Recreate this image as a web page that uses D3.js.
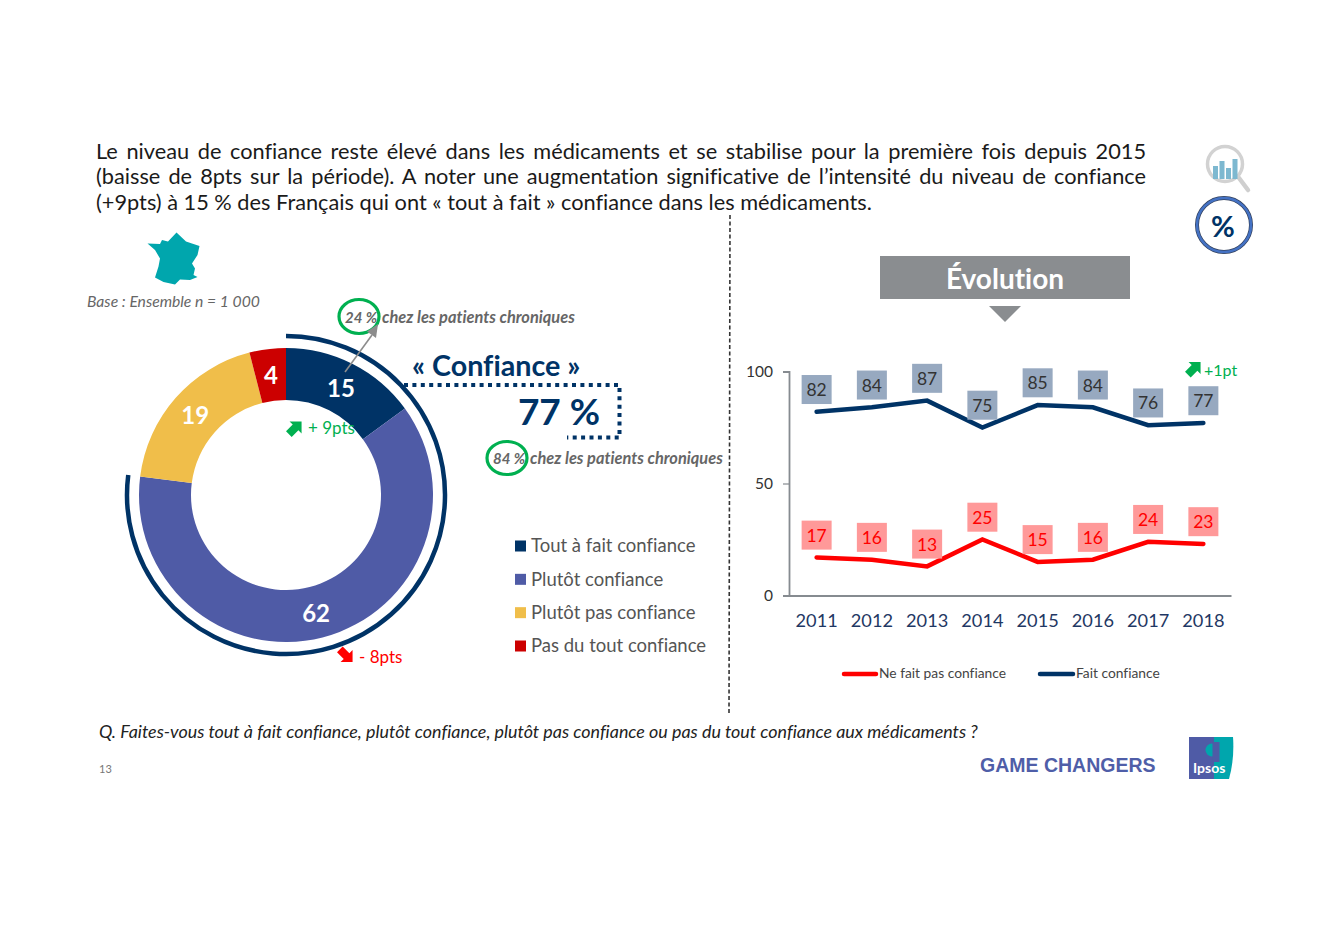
<!DOCTYPE html>
<html lang="fr">
<head>
<meta charset="utf-8">
<script src="https://d3js.org/d3.v7.min.js"></script>
<style>
html,body{margin:0;padding:0;background:#fff}
svg{display:block}
text{font-family:Lato,"Open Sans",sans-serif;font-variant-ligatures:none}
</style>
</head>
<body>
<svg id="c" width="1341" height="929"></svg>
<script>
const titleLines = [
  "Le niveau de confiance reste élevé dans les médicaments et se stabilise pour la première fois depuis 2015",
  "(baisse de 8pts sur la période). A noter une augmentation significative de l’intensité du niveau de confiance",
  "(+9pts) à 15 % des Français qui ont « tout à fait » confiance dans les médicaments."
];
const donutCategories = ["Tout à fait confiance","Plutôt confiance","Plutôt pas confiance","Pas du tout confiance"];
const donutValues = [15,62,19,4];
const donutColors = ["#003366","#4F5BA6","#F0BE4A","#CC0000"];
const confianceTotal = 77;
const years = [2011,2012,2013,2014,2015,2016,2017,2018];
const faitConfiance = [82,84,87,75,85,84,76,77];
const neFaitPasConfiance = [17,16,13,25,15,16,24,23];
const yTicks = [0,50,100];
const navy = "#003366", green = "#00B050", red = "#FF0000";

const svg = d3.select("#c");
function label(x,y,t,size,color,opts={}){
  return svg.append("text").attr("x",x).attr("y",y).text(t)
    .attr("font-size",size).attr("fill",color)
    .attr("font-weight",opts.weight||"normal")
    .attr("font-style",opts.style||"normal")
    .attr("text-anchor",opts.anchor||"start");
}

/* Title, justified by word spacing */
const lineW = 1050;
titleLines.forEach((t,i)=>{
  const n = label(96,158.8+i*25.6,t,21.75,"#1a1a1a");
  if(i<2){
    const w = n.node().getComputedTextLength();
    n.style("word-spacing",((lineW-w)/(t.split(" ").length-1))+"px");
  }
});

/* Icons top right */
const mag = svg.append("g");
mag.append("line").attr("x1",1239).attr("y1",178).attr("x2",1248).attr("y2",190)
  .attr("stroke","#CFCFCF").attr("stroke-width",4.5).attr("stroke-linecap","round");
mag.append("circle").attr("cx",1225).attr("cy",164).attr("r",17.5)
  .attr("fill","#fff").attr("stroke","#D2D2D2").attr("stroke-width",3.5);
[[1213,167,5,13],[1219.5,162,5,18],[1226,169,5,11],[1232.5,160,5,20]].forEach(b=>{
  mag.append("rect").attr("x",b[0]).attr("y",b[1]-1).attr("width",b[2]).attr("height",b[3]).attr("fill","#7DB8D0");
});
svg.append("circle").attr("cx",1224).attr("cy",225).attr("r",27).attr("fill","none").attr("stroke","#33415c").attr("stroke-width",4);
svg.append("circle").attr("cx",1224).attr("cy",225).attr("r",27).attr("fill","none").attr("stroke","#4472C4").attr("stroke-width",2.6);
label(1223,237,"%",29,navy,{weight:"bold",anchor:"middle"});

/* France */
svg.append("path").attr("fill","#00A6AD")
  .attr("d","M147.5,243.5L160,244L162,240L168,241.5L176.5,232.5L186,241.5L199.5,246L197.5,255L192,263.5L195,268.5L193.5,275L197.5,277L190,280L180,279.5L175,284.5L163.5,282L155,277.5L158.5,266.5L160,258.5L155,250Z");
label(87,307,"Base : Ensemble n = 1 000",15.7,"#666",{style:"italic"});

/* Donut */
const cx=286, cy=495;
const pie = d3.pie().sort(null).value(d=>d)(donutValues);
const arc = d3.arc().innerRadius(95).outerRadius(147);
const donut = svg.append("g").attr("transform",`translate(${cx},${cy})`);
donut.selectAll("path").data(pie).join("path").attr("d",arc).attr("fill",(d,i)=>donutColors[i]);
donut.selectAll("text").data(pie).join("text")
  .attr("transform",d=>`translate(${arc.centroid(d)})`)
  .attr("text-anchor","middle").attr("dy","0.39em")
  .attr("font-size",24).attr("font-weight","bold").attr("fill","#fff")
  .text(d=>d.data);
donut.append("path").attr("fill","none").attr("stroke",navy).attr("stroke-width",4.5)
  .attr("d",d3.arc().innerRadius(159).outerRadius(159)({startAngle:0,endAngle:2*Math.PI*confianceTotal/100}));

/* Block arrows */
function blockArrow(x,y,color,rot){
  svg.append("path").attr("transform",`translate(${x},${y}) rotate(${rot})`).attr("fill",color)
    .attr("d","M0,-10L8.5,-1.5L4,-1.5L4,8L-4,8L-4,-1.5L-8.5,-1.5Z");
}
blockArrow(294.5,428.5,green,45);
blockArrow(345.5,655,"#FF0000",135);
blockArrow(1193.5,369,green,45);
label(308,434,"+ 9pts",17,green);
label(359,663,"- 8pts",17,red);
label(1204,376,"+1pt",16,green);

/* Confiance callout */
svg.append("path").attr("fill","none").attr("stroke",navy).attr("stroke-width",4).attr("stroke-dasharray","4 4.4")
  .attr("d","M404,385H619.5V437.5H567");
label(412,376,"« Confiance »",28.7,navy,{weight:"bold"});
label(559,425,confianceTotal+" %",37,navy,{weight:"bold",anchor:"middle"});

/* Chronic patient notes */
svg.append("ellipse").attr("cx",359).attr("cy",316.5).attr("rx",20).attr("ry",17).attr("fill","none").attr("stroke",green).attr("stroke-width",3.2);
svg.append("ellipse").attr("cx",507).attr("cy",458).attr("rx",20).attr("ry",16.5).attr("fill","none").attr("stroke",green).attr("stroke-width",3.2);
label(345,323,"24 %",15,"#666",{weight:"bold",style:"italic"});
label(382,323,"chez les patients chroniques",16.4,"#666",{weight:"bold",style:"italic"});
label(493,464,"84 %",15,"#666",{weight:"bold",style:"italic"});
label(530,464,"chez les patients chroniques",16.4,"#666",{weight:"bold",style:"italic"});
svg.append("line").attr("x1",345).attr("y1",372).attr("x2",372).attr("y2",335).attr("stroke","#8C8C8C").attr("stroke-width",1.6);
svg.append("path").attr("fill","#8C8C8C").attr("d","M378,324L376,338L367,331.5Z");

/* Donut legend */
const legendY = d3.scalePoint().domain(donutCategories).range([546,646]);
donutCategories.forEach((c,i)=>{
  svg.append("rect").attr("x",515).attr("y",legendY(c)-5.5).attr("width",11).attr("height",11).attr("fill",donutColors[i]);
  label(531,legendY(c)+6.3,c,18.5,"#555");
});

/* Divider */
svg.append("line").attr("x1",730).attr("y1",215).attr("x2",729).attr("y2",715)
  .attr("stroke","#333").attr("stroke-width",1.6).attr("stroke-dasharray","4 2.5");

/* Évolution banner */
svg.append("rect").attr("x",880).attr("y",256).attr("width",250).attr("height",43).attr("fill","#8A8D90");
label(1005,289,"Évolution",28,"#fff",{weight:"bold",anchor:"middle"});
svg.append("path").attr("fill","#8A8D90").attr("d","M989,306H1021L1005,322Z");

/* Line chart */
const x = d3.scaleBand().domain(years).range([789,1231]);
const y = d3.scaleLinear().domain([0,100]).range([595.5,371.5]);
const axisStroke = "#868B90";
const gx = svg.append("g").attr("transform","translate(0,595.5)").call(d3.axisBottom(x).tickSize(0).tickPadding(19));
gx.selectAll("text").attr("font-size",18.2).attr("fill","#1F3864").style("font-family","Lato,sans-serif");
gx.select(".domain").attr("stroke",axisStroke).attr("stroke-width",1.8);
const gy = svg.append("g").attr("transform","translate(789,0)").call(d3.axisLeft(y).tickValues(yTicks).tickSize(6).tickPadding(10));
gy.selectAll("text").attr("font-size",15.5).attr("fill","#333").style("font-family","Lato,sans-serif");
gy.select(".domain").attr("stroke",axisStroke).attr("stroke-width",1.8);
gy.selectAll("line").attr("stroke",axisStroke).attr("stroke-width",1.2);

const lineGen = d3.line().x((d,i)=>x(years[i])+x.bandwidth()/2).y(d=>y(d));
function series(values,color,boxColor,textColor){
  svg.append("path").attr("d",lineGen(values)).attr("fill","none").attr("stroke",color)
    .attr("stroke-width",4.5).attr("stroke-linecap","round").attr("stroke-linejoin","miter");
  const g = svg.append("g").selectAll("g").data(values).join("g")
    .attr("transform",(d,i)=>`translate(${x(years[i])+x.bandwidth()/2},${y(d)-22.3})`);
  g.append("rect").attr("x",-15).attr("y",-14.5).attr("width",30).attr("height",29).attr("fill",boxColor);
  g.append("text").attr("text-anchor","middle").attr("dy","0.37em").attr("font-size",17.5).attr("fill",textColor).text(d=>d);
}
series(faitConfiance,"#003366","#97A9C0","#333");
series(neFaitPasConfiance,"#FF0000","#FF9999","#FF0000");

svg.append("line").attr("x1",844).attr("x2",876).attr("y1",674).attr("y2",674).attr("stroke","#FF0000").attr("stroke-width",4.5).attr("stroke-linecap","round");
label(879,678,"Ne fait pas confiance",13.8,"#444");
svg.append("line").attr("x1",1040).attr("x2",1073).attr("y1",674).attr("y2",674).attr("stroke",navy).attr("stroke-width",4.5).attr("stroke-linecap","round");
label(1076,678,"Fait confiance",13.8,"#444");

/* Footer */
label(99,738,"Q. Faites-vous tout à fait confiance, plutôt confiance, plutôt pas confiance ou pas du tout confiance aux médicaments ?",17.9,"#222",{style:"italic"});
label(99,773,"13",11,"#777");
label(980,772,"GAME CHANGERS",19.5,"#4F5EA8",{weight:"bold"}).style("font-family","'Liberation Sans',Arial,sans-serif");
svg.append("rect").attr("x",1189).attr("y",737).attr("width",25).attr("height",42).attr("fill","#4F5BA6");
svg.append("path").attr("fill","#00A6AD").attr("d","M1214,737H1233C1234,750 1233,765 1229,779H1214Z");
svg.append("circle").attr("cx",1212).attr("cy",750).attr("r",6.5).attr("fill","#00A6AD");
svg.append("rect").attr("x",1212.5).attr("y",742).attr("width",7).attr("height",20).attr("fill","#4F5BA6");
label(1193,773,"Ipsos",14,"#fff",{weight:"bold"});
</script>
</body>
</html>
